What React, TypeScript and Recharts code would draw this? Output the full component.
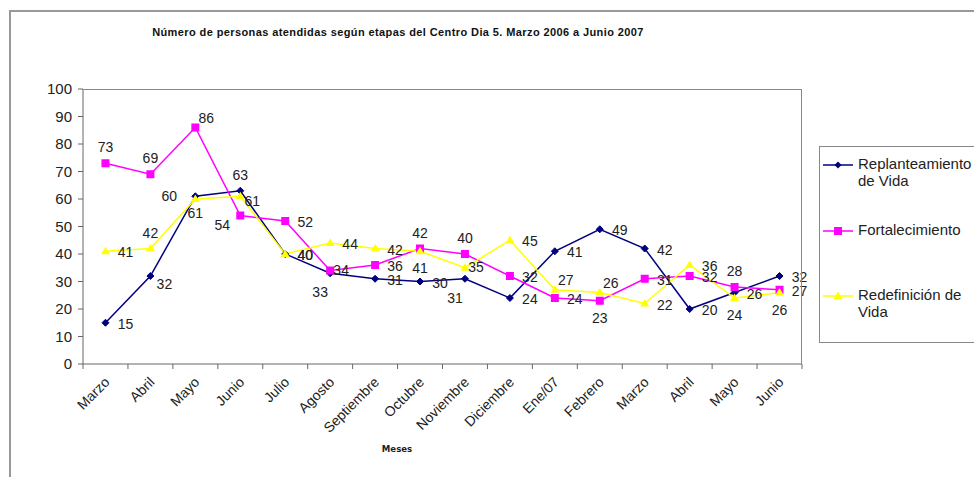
import React from 'react';
import { LineChart, Line, XAxis, YAxis, LabelList } from 'recharts';

const months = ['Marzo', 'Abril', 'Mayo', 'Junio', 'Julio', 'Agosto', 'Septiembre', 'Octubre', 'Noviembre', 'Diciembre', 'Ene/07', 'Febrero', 'Marzo', 'Abril', 'Mayo', 'Junio'];
const replanteamiento = [15, 32, 61, 63, 40, 33, 31, 30, 31, 24, 41, 49, 42, 20, 26, 32];
const fortalecimiento = [73, 69, 86, 54, 52, 34, 36, 42, 40, 32, 24, 23, 31, 32, 28, 27];
const redefinicion = [41, 42, 60, 61, 40, 44, 42, 41, 35, 45, 27, 26, 22, 36, 24, 26];
const yTicks = [0, 10, 20, 30, 40, 50, 60, 70, 80, 90, 100];

const seriesNames = ['Replanteamiento de Vida', 'Fortalecimiento', 'Redefinición de Vida'];

// label placement codes per point
const posReplant = ['r', 'rb', 'b', 'a', 'r', 'bl', 'r', 'r', 'bl', 'r', 'r', 'r', 'r', 'r', 'r', 'r'];
const posFort = ['a', 'a', 'ar', 'lb', 'r', 'rc', 'r', 'a', 'a', 'r', 'r', 'b', 'r', 'r', 'a', 'r'];
const posRedef = ['r', 'a', 'l', 'rs', 'r', 'r', 'r', 'b', 'rc', 'r', 'ar', 'ar', 'r', 'r', 'b', 'b'];

const OFFSETS: Record<string, [number, number]> = {
  r: [20, 1],
  rb: [14, 8],
  rs: [12, 5],
  rc: [11, -1],
  b: [0, 17],
  a: [0, -16],
  ar: [11, -10],
  bl: [-10, 19],
  lb: [-18, 9],
  l: [-26, -3],
};

const data = months.map((m, i) => ({
  month: m,
  idx: i,
  replanteamiento: replanteamiento[i],
  fortalecimiento: fortalecimiento[i],
  redefinicion: redefinicion[i],
}));

const W = 974;
const H = 477;
const PLOT_LEFT = 83;
const PLOT_TOP = 89;
const PLOT_RIGHT = 802;
const PLOT_BOTTOM = 364;
const BAND = (PLOT_RIGHT - PLOT_LEFT) / months.length;
const FONT = '"Liberation Sans", Arial, sans-serif';

const NAVY = '#000080';
const MAGENTA = '#FF00FF';
const YELLOW = '#FFFF00';

const Diamond = (props: any) => {
  const { cx, cy } = props;
  if (cx == null || cy == null) return null;
  const s = 3.5;
  return <polygon points={`${cx},${cy - s} ${cx + s},${cy} ${cx},${cy + s} ${cx - s},${cy}`} fill={NAVY} stroke={NAVY} />;
};
const Square = (props: any) => {
  const { cx, cy } = props;
  if (cx == null || cy == null) return null;
  return <rect x={cx - 4} y={cy - 4} width={8} height={8} fill={MAGENTA} />;
};
const Triangle = (props: any) => {
  const { cx, cy } = props;
  if (cx == null || cy == null) return null;
  return <polygon points={`${cx},${cy - 4.5} ${cx + 4.5},${cy + 3} ${cx - 4.5},${cy + 3}`} fill={YELLOW} />;
};

const makeLabel = (positions: string[]) => (props: any) => {
  const { x, y, value, index } = props;
  const [dx, dy] = OFFSETS[positions[index]] || [20, 0];
  return (
    <text x={x + dx} y={y + dy} textAnchor="middle" dominantBaseline="central" fontSize={14} fill="#222" fontFamily={FONT}>
      {value}
    </text>
  );
};

const XTick = (props: any) => {
  const { x, payload, index } = props;
  const half = BAND / 2;
  const lx = x + 5;
  const ly = PLOT_BOTTOM + 19;
  return (
    <g>
      <line x1={x - half} y1={PLOT_BOTTOM} x2={x - half} y2={PLOT_BOTTOM + 5} stroke="#666" />
      {index === months.length - 1 && (
        <line x1={x + half} y1={PLOT_BOTTOM} x2={x + half} y2={PLOT_BOTTOM + 5} stroke="#666" />
      )}
      <text x={lx} y={ly} transform={`rotate(-45, ${lx}, ${ly})`} textAnchor="end" fontSize={14} fill="#222" fontFamily={FONT}>
        {months[index] ?? payload.value}
      </text>
    </g>
  );
};

const LegendIcon = ({ kind, color }: { kind: string; color: string }) => (
  <svg width={30} height={10} style={{ display: 'block' }}>
    <line x1={0} y1={5} x2={30} y2={5} stroke={color} strokeWidth={1.5} />
    {kind === 'diamond' && <polygon points="15,1.5 18.5,5 15,8.5 11.5,5" fill={color} />}
    {kind === 'square' && <rect x={11} y={1} width={8} height={8} fill={color} />}
    {kind === 'triangle' && <polygon points="15,0.5 19.5,8 10.5,8" fill={color} />}
  </svg>
);

const legendItems = [
  { name: seriesNames[0], lines: ['Replanteamiento', 'de Vida'], kind: 'diamond', color: NAVY, top: 163 },
  { name: seriesNames[1], lines: ['Fortalecimiento'], kind: 'square', color: MAGENTA, top: 229 },
  { name: seriesNames[2], lines: ['Redefinición de', 'Vida'], kind: 'triangle', color: YELLOW, top: 294 },
];

export default function App() {
  return (
    <div style={{ position: 'absolute', left: 0, top: 0, width: W, height: H, overflow: 'hidden', background: '#fff', fontFamily: FONT }}>
      <div style={{ position: 'absolute', left: 9, top: 10, width: 1100, height: 600, border: '2px solid #999', boxSizing: 'border-box' }} />
      <div style={{ position: 'absolute', left: 0, width: 796, top: 26, textAlign: 'center', fontSize: 11, letterSpacing: 0.4, fontWeight: 'bold', color: '#111' }}>
        Número de personas atendidas según etapas del Centro Dia 5. Marzo 2006 a Junio 2007
      </div>
      <div style={{ position: 'absolute', left: 0, width: 794, top: 443, textAlign: 'center', fontSize: 9.5, fontWeight: 'bold', color: '#222', fontFamily: '"Liberation Sans Narrow", "DejaVu Sans Condensed", Arial, sans-serif' }}>
        Meses
      </div>
      <div style={{ position: 'absolute', left: 0, top: 0 }}>
        <LineChart width={W} height={H} data={data} margin={{ top: PLOT_TOP, right: W - PLOT_RIGHT, bottom: H - PLOT_BOTTOM - 30, left: 0 }}>
          <XAxis
            dataKey="idx"
            type="category"
            height={30}
            interval={0}
            padding={{ left: BAND / 2, right: BAND / 2 }}
            tickLine={false}
            axisLine={{ stroke: '#666' }}
            tick={<XTick />}
          />
          <YAxis
            width={PLOT_LEFT}
            domain={[0, 100]}
            ticks={yTicks}
            interval={0}
            tickSize={5}
            tickMargin={6}
            axisLine={{ stroke: '#666' }}
            tickLine={{ stroke: '#666' }}
            tick={{ fontSize: 15, fill: '#222', fontFamily: FONT }}
          />
          <Line dataKey="replanteamiento" name={seriesNames[0]} stroke={NAVY} strokeWidth={1.5} dot={<Diamond />} isAnimationActive={false}>
            <LabelList dataKey="replanteamiento" content={makeLabel(posReplant)} />
          </Line>
          <Line dataKey="fortalecimiento" name={seriesNames[1]} stroke={MAGENTA} strokeWidth={1.5} dot={<Square />} isAnimationActive={false}>
            <LabelList dataKey="fortalecimiento" content={makeLabel(posFort)} />
          </Line>
          <Line dataKey="redefinicion" name={seriesNames[2]} stroke={YELLOW} strokeWidth={1.5} dot={<Triangle />} isAnimationActive={false}>
            <LabelList dataKey="redefinicion" content={makeLabel(posRedef)} />
          </Line>
        </LineChart>
      </div>
      <div style={{ position: 'absolute', left: PLOT_LEFT, top: PLOT_TOP, width: PLOT_RIGHT - PLOT_LEFT, height: PLOT_BOTTOM - PLOT_TOP, borderTop: '1.5px solid #888', borderRight: '1.5px solid #888', boxSizing: 'border-box', pointerEvents: 'none' }} />
      <div style={{ position: 'absolute', left: 819, top: 146, width: 200, height: 197, border: '1.5px solid #888', boxSizing: 'border-box' }}>
        {legendItems.map((it) => (
          <div key={it.name} style={{ position: 'absolute', left: 3, top: it.top - 146 - 9, display: 'flex', alignItems: 'flex-start' }}>
            <div style={{ marginTop: 5, marginRight: 5 }}>
              <LegendIcon kind={it.kind} color={it.color} />
            </div>
            <div style={{ fontSize: 15, lineHeight: '17px', color: '#222', whiteSpace: 'nowrap' }}>
              {it.lines.map((l) => (
                <div key={l}>{l}</div>
              ))}
            </div>
          </div>
        ))}
      </div>
    </div>
  );
}
